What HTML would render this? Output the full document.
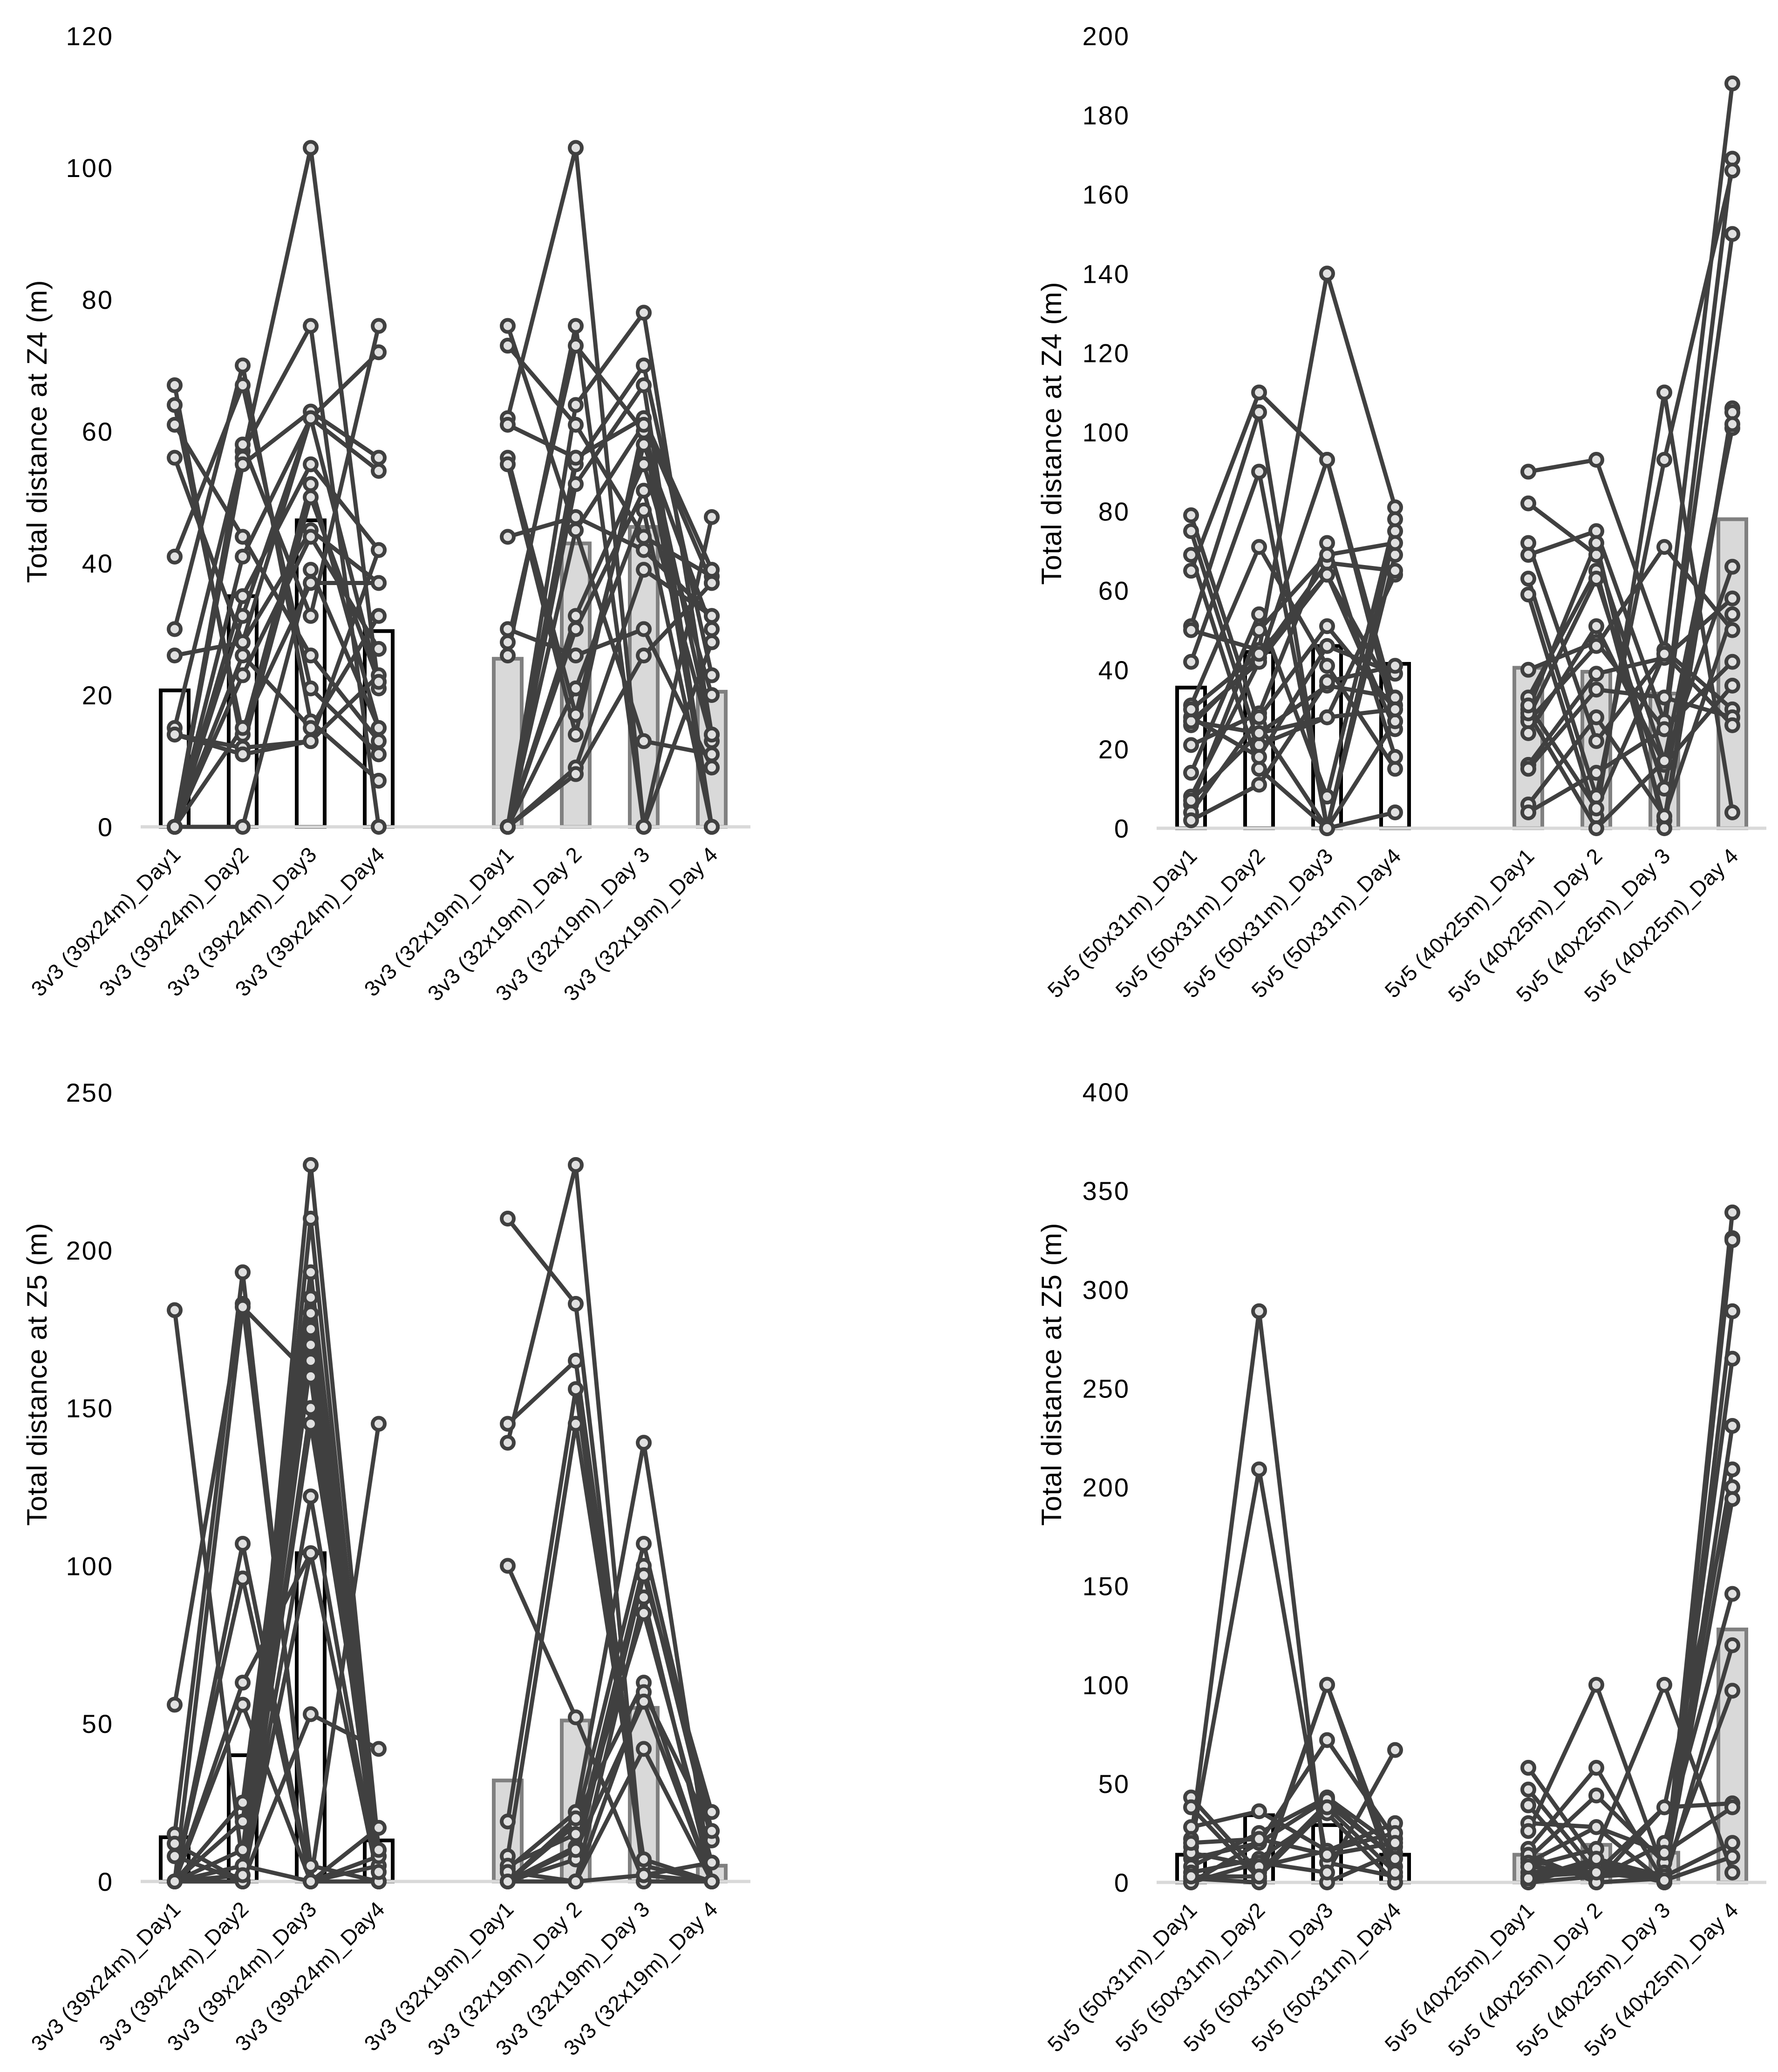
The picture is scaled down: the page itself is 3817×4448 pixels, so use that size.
<!DOCTYPE html>
<html><head><meta charset="utf-8"><style>
html,body{margin:0;padding:0;background:#fff}
svg{display:block}
text{font-family:"Liberation Sans",sans-serif;fill:#000}
</style></head><body>
<svg id="fig" width="3817" height="4448" viewBox="0 0 3817 4448" xmlns="http://www.w3.org/2000/svg"></svg>
<script>
// ---- data ----
const catsA = ["3v3 (39x24m)_Day1","3v3 (39x24m)_Day2","3v3 (39x24m)_Day3","3v3 (39x24m)_Day4","3v3 (32x19m)_Day1","3v3 (32x19m)_Day 2","3v3 (32x19m)_Day 3","3v3 (32x19m)_Day 4"];
const catsB = ["5v5 (50x31m)_Day1","5v5 (50x31m)_Day2","5v5 (50x31m)_Day3","5v5 (50x31m)_Day4","5v5 (40x25m)_Day1","5v5 (40x25m)_Day 2","5v5 (40x25m)_Day 3","5v5 (40x25m)_Day 4"];

const ticksZ4A = [0,20,40,60,80,100,120];
const ticksZ4B = [0,20,40,60,80,100,120,140,160,180,200];
const ticksZ5A = [0,50,100,150,200,250];
const ticksZ5B = [0,50,100,150,200,250,300,350,400];

const barsZ4A = [20.7,35,46.5,29.7,25.5,43,45.5,20.5];
const barsZ4B = [35.5,44.5,46,41.5,40.5,39.5,34,78];
const barsZ5A = [14,40,104,13,32,51,55,5];
const barsZ5B = [14,34,29,14,14,19,15,128];

const z4a_g1 = [[67,12,50,22],[64,14,52,15],[61,44,26,13],[56,28,45,37],[41,67,21,11],[30,70,16,7],[26,28,62,54],[15,57,76,0],[14,12,13,23],[0,56,103,21],[0,55,63,56],[0,58,32,76],[0,41,62,72],[0,35,55,42],[0,26,15,32],[0,23,44,27],[0,15,37,37],[0,0,39,15],[0,32,62,22],[14,11,13,42]];
const z4a_g2 = [[76,45,13,11],[73,61,44,38],[62,103,0,47],[61,56,62,39],[56,17,58,30],[55,14,61,37],[44,47,42,32],[30,26,30,9],[28,73,60,0],[26,76,0,28],[0,64,78,14],[0,55,70,23],[0,52,67,0],[0,32,55,20],[0,30,51,13],[0,21,48,0],[0,9,39,32],[0,8,26,37],[0,56,62,0],[0,45,61,14]];
const z4b_g1 = [[79,26,0,27],[75,21,28,64],[69,15,0,69],[65,110,93,31],[51,105,0,75],[50,45,140,81],[42,90,0,4],[31,71,41,15],[28,18,46,39],[27,24,36,33],[26,43,67,65],[21,29,72,18],[14,54,8,78],[8,42,64,25],[6,50,69,72],[4,28,51,30],[2,11,37,41],[27,42,93,27],[30,44,64,33],[7,24,28,30]];
const z4b_g2 = [[90,93,45,30],[82,69,17,101],[72,22,44,188],[69,75,27,169],[63,8,93,166],[59,3,110,4],[40,47,25,150],[33,65,2,106],[30,72,0,105],[28,63,10,102],[27,46,71,50],[24,51,16,36],[16,39,43,58],[15,35,33,28],[6,28,3,54],[4,14,25,42],[29,0,17,66],[31,5,44,26]];
const z5a_g1 = [[181,5,0,0],[56,183,5,0],[15,193,0,5],[12,0,227,10],[8,0,210,0],[0,107,0,145],[0,96,0,8],[0,63,104,0],[0,56,0,17],[0,25,193,0],[0,19,185,5],[0,10,180,0],[0,5,170,0],[0,182,160,0],[0,0,150,8],[0,0,145,10],[0,0,122,0],[0,0,53,42],[0,0,104,0],[0,0,175,0],[0,2,165,3]];
const z5a_g2 = [[210,183,0,0],[145,165,5,0],[139,227,0,0],[100,52,0,0],[19,156,2,6],[8,145,7,0],[4,22,139,0],[0,18,107,16],[0,11,100,13],[0,7,97,22],[0,0,90,0],[5,15,85,6],[0,20,63,0],[0,0,60,16],[0,10,57,0],[3,0,42,0],[0,0,2,0]];
const z5b_g1 = [[43,5,40,12],[38,2,100,8],[28,36,16,30],[22,289,0,15],[18,209,10,3],[12,20,72,22],[8,25,43,18],[5,12,35,0],[2,0,100,0],[0,10,5,67],[0,20,42,12],[15,8,16,25],[3,3,38,5],[20,22,14,20]];
const z5b_g2 = [[58,10,0,339],[47,5,3,326],[39,0,2,325],[30,28,0,289],[26,100,5,265],[17,58,0,231],[12,44,10,209],[8,17,100,5],[3,5,38,200],[0,10,2,194],[12,2,20,146],[5,8,0,120],[0,3,5,97],[14,0,38,40],[10,28,15,38],[2,12,3,20],[8,5,1,13]];

// ---- drawing ----
const NS = "http://www.w3.org/2000/svg";
const svg = document.getElementById('fig');
function mk(tag, parent){ const e = document.createElementNS(NS, tag); parent.appendChild(e); return e; }

function panel(cfg){
  const g = mk('g', svg);
  
  
  const yS = v => cfg.y0 - v / cfg.max * (cfg.y0 - cfg.yTop);
  const xS = i => (i < 4 ? cfg.xa + i * cfg.dx : cfg.xb + (i - 4) * cfg.dx);

  cfg.ticks.forEach(t => {
    const tx = mk('text', g);
    
    
    tx.setAttribute('x', cfg.tickX);
    tx.setAttribute('y', yS(t) + 20);
    tx.setAttribute('text-anchor', 'end');
    tx.setAttribute('font-size', '56');
    tx.setAttribute('letter-spacing', '3');
    tx.textContent = t;
  });
  const yt = mk('text', g);
  
  
  yt.setAttribute('transform', `translate(${cfg.titleX},${cfg.titleY}) rotate(-90)`);
  yt.setAttribute('text-anchor', 'middle');
  yt.setAttribute('font-size', '60');
  yt.setAttribute('letter-spacing', '1');
  yt.textContent = cfg.title;

  cfg.bars.forEach((b, i) => {
    const r = mk('rect', g);
    
    
    r.setAttribute('x', xS(i) - 30);
    r.setAttribute('width', 60);
    r.setAttribute('y', yS(b));
    r.setAttribute('height', cfg.y0 - yS(b));
    r.setAttribute('fill', i < 4 ? '#ffffff' : '#d9d9d9');
    r.setAttribute('stroke', i < 4 ? '#000000' : '#808080');
    r.setAttribute('stroke-width', 8);
  });
  const ax = mk('line', g);
  
  
  ax.setAttribute('x1', cfg.axL); ax.setAttribute('x2', cfg.axR);
  ax.setAttribute('y1', cfg.y0); ax.setAttribute('y2', cfg.y0);
  ax.setAttribute('stroke', '#d9d9d9'); ax.setAttribute('stroke-width', 7);

  [[cfg.g1, 0], [cfg.g2, 4]].forEach(([grp, off]) => {
    grp.forEach(s => {
      const pl = mk('polyline', g);
      
      
      pl.setAttribute('points', s.map((v, j) => `${xS(off + j)},${yS(v)}`).join(' '));
      pl.setAttribute('fill', 'none');
      pl.setAttribute('stroke', '#404040');
      pl.setAttribute('stroke-width', 9);
    });
  });
  [[cfg.g1, 0], [cfg.g2, 4]].forEach(([grp, off]) => {
    grp.forEach(s => {
      s.forEach((v, j) => {
        const c = mk('circle', g);
        
        
        c.setAttribute('cx', xS(off + j));
        c.setAttribute('cy', yS(v));
        c.setAttribute('r', 13);
        c.setAttribute('fill', '#e0e0e0');
        c.setAttribute('stroke', '#404040');
        c.setAttribute('stroke-width', 8);
      });
    });
  });
  cfg.cats.forEach((c, i) => {
    const tx = mk('text', g);
    
    
    const x = xS(i) + 16, y = cfg.y0 + 62;
    tx.setAttribute('transform', `translate(${x},${y}) rotate(-45)`);
    tx.setAttribute('text-anchor', 'end');
    tx.setAttribute('font-size', '46');
    tx.setAttribute('letter-spacing', '1');
    tx.textContent = c;
  });
}

panel({name:'chart-z4-3v3', cats:catsA, ticks:ticksZ4A, max:120, y0:1775, yTop:77, xa:375, xb:1090, dx:146, axL:302, axR:1611, tickX:244, titleX:100, titleY:926, title:'Total distance at Z4 (m)', bars:barsZ4A, g1:z4a_g1, g2:z4a_g2});
panel({name:'chart-z4-5v5', cats:catsB, ticks:ticksZ4B, max:200, y0:1778, yTop:77, xa:2557, xb:3281, dx:146, axL:2483, axR:3792, tickX:2426, titleX:2278, titleY:930, title:'Total distance at Z4 (m)', bars:barsZ4B, g1:z4b_g1, g2:z4b_g2});
panel({name:'chart-z5-3v3', cats:catsA, ticks:ticksZ5A, max:250, y0:4039, yTop:2345, xa:375, xb:1090, dx:146, axL:302, axR:1611, tickX:244, titleX:100, titleY:2950, title:'Total distance at Z5 (m)', bars:barsZ5A, g1:z5a_g1, g2:z5a_g2});
panel({name:'chart-z5-5v5', cats:catsB, ticks:ticksZ5B, max:400, y0:4041, yTop:2344, xa:2557, xb:3281, dx:146, axL:2483, axR:3792, tickX:2426, titleX:2278, titleY:2950, title:'Total distance at Z5 (m)', bars:barsZ5B, g1:z5b_g1, g2:z5b_g2});
</script>
</body></html>
